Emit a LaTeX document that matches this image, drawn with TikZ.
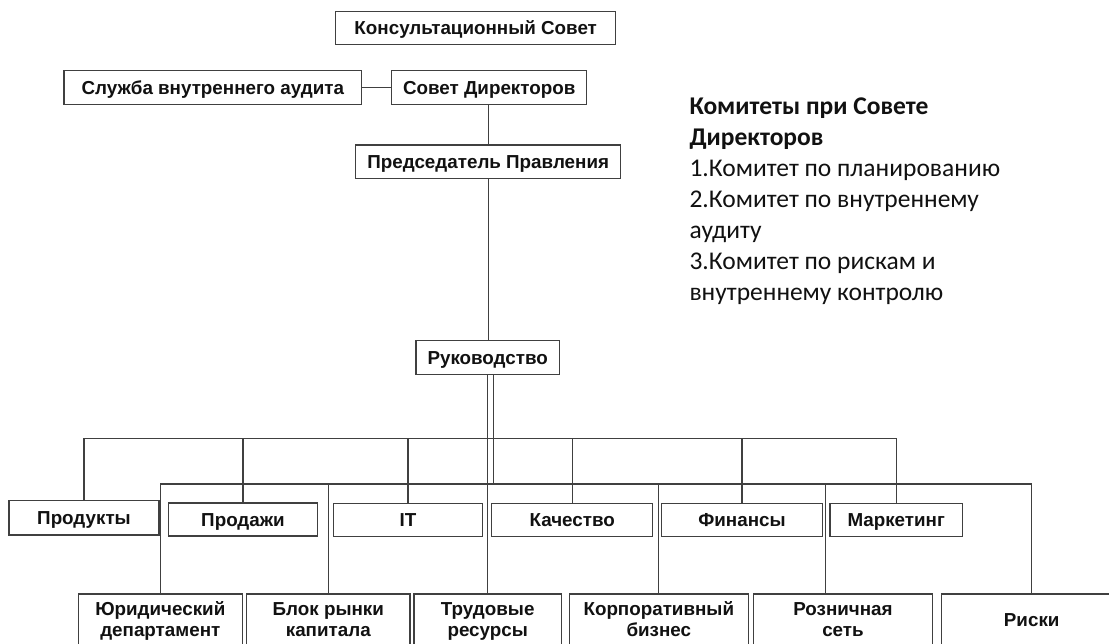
\documentclass[tikz,border=0pt]{standalone}
\usepackage{fontspec}
\setmainfont{Liberation Sans}
\newfontfamily\calib{Carlito}
\definecolor{linec}{HTML}{404040}
\definecolor{textc}{HTML}{111111}
\begin{document}
\begin{tikzpicture}[x=1pt,y=-1pt,
  box/.style={draw=linec,line width=1.4pt,fill=white,inner sep=0pt,
    font=\fontsize{18.8}{21}\selectfont\bfseries,text=textc,align=center},
  one/.style={box,text height=13.5pt,text depth=0pt},
  two/.style={box,minimum height=56pt},
  link/.style={draw=linec,line width=1.3pt}]
\useasboundingbox (0,0) rectangle (1109,643);
\clip (0,0) rectangle (1109,643);
\fill[white] (0,0) rectangle (1109,643);
% top
\node[one,minimum width=280pt,minimum height=32.6pt] (kons) at (475.7,28) {Консультационный Совет};
\node[one,minimum width=297.7pt,minimum height=33.6pt] (sluzh) at (212.8,87.5) {Служба внутреннего аудита};
\node[one,minimum width=195pt,minimum height=33.6pt] (sovet) at (489.2,87.5) {Совет Директоров};
\node[one,minimum width=265pt,minimum height=33.3pt] (pred) at (488.2,161.7) {Председатель Правления};
\node[one,minimum width=143.3pt,minimum height=33.6pt] (ruk) at (487.7,357.5) {Руководство};
% middle row
\node[one,minimum width=150pt,minimum height=34.3pt] (prod) at (84,517.8) {Продукты};
\node[one,minimum width=149.4pt,minimum height=33pt] (prodazhi) at (243,519.5) {Продажи};
\node[one,minimum width=149.4pt,minimum height=33.4pt] (it) at (408,520) {IT};
\node[one,minimum width=161pt,minimum height=33.4pt] (kach) at (572.2,520) {Качество};
\node[one,minimum width=160.6pt,minimum height=33.4pt] (fin) at (742,520) {Финансы};
\node[one,minimum width=132.3pt,minimum height=33.4pt] (mark) at (896.2,520) {Маркетинг};
% bottom row
\node[two,minimum width=164pt] (yur) at (160.3,622) {\strut Юридический\\\strut департамент};
\node[two,minimum width=163.3pt] (blok) at (328.3,622) {\strut Блок рынки\\\strut капитала};
\node[two,minimum width=147.3pt] (trud) at (487.7,622) {\strut Трудовые\\\strut ресурсы};
\node[two,minimum width=179pt] (korp) at (658.8,622) {\strut Корпоративный\\\strut бизнес};
\node[two,minimum width=179.4pt] (rozn) at (843,622) {\strut Розничная\\\strut сеть};
\node[one,text depth=4pt,minimum width=180pt,minimum height=56pt] (riski) at (1031.7,622) {Риски};
% committees
\node[anchor=north west,inner sep=0pt,align=left,text=textc,
  font=\calib\fontsize{25.5}{31}\selectfont] (kom) at (689.3,97.5)
  {\textbf{Комитеты при Совете}\\\textbf{Директоров}\\1.Комитет по планированию\\2.Комитет по внутреннему\\аудиту\\3.Комитет по рискам и\\внутреннему контролю};
% connectors
\coordinate (ub) at (0,438.3);
\coordinate (lb) at (0,484);
\draw[link] (sluzh.east) -- (sluzh.east -| sovet.west);
\draw[link] (pred.north) -- (pred.north |- sovet.south);
\draw[link] (pred.south) -- (pred.south |- ruk.north);
\draw[link] (ruk.south) -- (trud.north);
\draw[link] ([xshift=5.7pt]ruk.south) -- ([xshift=5.7pt]ruk.south |- lb);
\draw[link] (prod.north) |- (mark.north |- ub) -- (mark.north);
\foreach \n in {prodazhi,it,kach,fin} \draw[link] (\n.north) -- (\n.north |- ub);
\draw[link] (yur.north) |- (riski.north |- lb) -- (riski.north);
\foreach \n in {blok,korp} \draw[link] (\n.north) -- (\n.north |- lb);
\draw[link] ([xshift=-17.3pt]rozn.north) -- ([xshift=-17.3pt]rozn.north |- lb);
\end{tikzpicture}
\end{document}
